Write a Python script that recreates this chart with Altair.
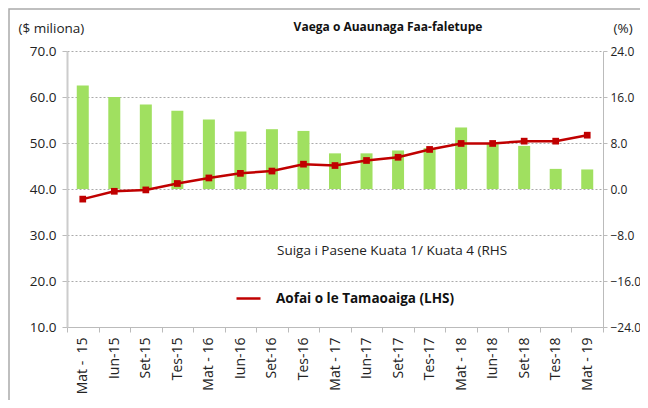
import altair as alt
import pandas as pd

quarters = ["Mat - \u00a015", "Iun-15", "Set-15", "Tes-15", "Mat - 16", "Iun-16", "Set-16", "Tes-16",
            "Mat - 17", "Iun-17", "Set-17", "Tes-17", "Mat - 18", "Iun-18", "Set-18", "Tes-18", "Mat - 19"]
pct_change = [18.0, 16.0, 14.7, 13.6, 12.1, 10.0, 10.4, 10.1,
              6.2, 6.2, 6.7, 7.1, 10.7, 7.8, 7.5, 3.5, 3.4]
total_assets = [37.8, 39.5, 39.8, 41.2, 42.4, 43.4, 43.9, 45.4,
                45.1, 46.2, 46.9, 48.6, 49.9, 49.9, 50.4, 50.4, 51.7]
left_ticks = [10, 20, 30, 40, 50, 60, 70]
right_ticks = [-24, -16, -8, 0, 8, 16, 24]

chart_title = "Vaega o Auaunaga Faa-faletupe"
line_name = "Aofai o le Tamaoaiga (LHS)"
bar_note = "Suiga i Pasene Kuata 1/ Kuata 4 (RHS"

df = pd.DataFrame({"q": quarters, "pct": pct_change, "assets": total_assets, "series": line_name})

FONT = "Open Sans"
W, H = 536, 276

xenc = alt.X("q:N", sort=quarters, title=None,
             scale=alt.Scale(paddingInner=0.0, paddingOuter=0.0),
             axis=alt.Axis(labelAngle=-90, labelFontSize=14, labelColor="#222", labelFont=FONT,
                           tickBand="extent", tickSize=5, tickColor="#bbb", domainColor="#bbb",
                           labelPadding=5, labelBaseline="middle", labelAlign="right"))

bars = alt.Chart(df).mark_bar(color="#A0E060", size=12).encode(
    x=xenc,
    y=alt.Y("pct:Q", title="(%)",
            scale=alt.Scale(domain=[-24, 24], nice=False, zero=False),
            axis=alt.Axis(orient="right", values=right_ticks, format=".1f", grid=False,
                          labelFontSize=12, labelColor="#222", labelFont=FONT,
                          tickSize=4, tickColor="#bbb", domainColor="#bbb", labelPadding=3,
                          titleAngle=0, titleX=10, titleY=-23, titleAlign="left",
                          titleBaseline="middle", titleFontWeight="normal", titleFontSize=13.5,
                          titleFont=FONT, titleColor="#222")),
)

line = alt.Chart(df).mark_line(strokeWidth=2.5).encode(
    x=alt.X("q:N", sort=quarters),
    y=alt.Y("assets:Q", title="($ miliona)",
            scale=alt.Scale(domain=[10, 70], nice=False, zero=False),
            axis=alt.Axis(orient="left", values=left_ticks, format=".1f",
                          grid=True, gridDash=[2, 2], gridColor="#aaa",
                          labelFontSize=13.5, labelColor="#222", labelFont=FONT,
                          tickSize=5, tickColor="#bbb", domainColor="#ccc", domainWidth=2,
                          labelPadding=6,
                          titleAngle=0, titleX=-49, titleY=-23, titleAlign="left",
                          titleBaseline="middle", titleFontWeight="normal", titleFontSize=13.5,
                          titleFont=FONT, titleColor="#222")),
    color=alt.Color("series:N", scale=alt.Scale(range=["#C00000"]),
                    legend=alt.Legend(title=None, orient="none", legendX=168, legendY=234,
                                      symbolType="stroke", symbolSize=576, symbolStrokeWidth=2.5,
                                      labelFontSize=13.5, labelFontWeight="bold", labelFont=FONT,
                                      labelColor="#111", labelOffset=14, labelLimit=0)),
)

points = alt.Chart(df).mark_point(shape="square", filled=True, size=45, color="#C00000", opacity=1).encode(
    x=alt.X("q:N", sort=quarters),
    y=alt.Y("assets:Q"),
)

note = alt.Chart(pd.DataFrame({"t": [bar_note]})).mark_text(
    align="left", baseline="middle", fontSize=13.5, font=FONT, color="#222"
).encode(x=alt.value(210), y=alt.value(200), text="t:N")

head = alt.Chart(pd.DataFrame({"t": [chart_title]})).mark_text(
    align="center", baseline="middle", fontSize=12, fontWeight="bold", font=FONT, color="#111"
).encode(x=alt.value(321), y=alt.value(-24), text="t:N")

frame = alt.Chart(pd.DataFrame({"a": [0]})).mark_rect(
    fill="transparent", fillOpacity=0, stroke="#aaa", strokeWidth=1.5
).encode(x=alt.value(-58), x2=alt.value(W + 200), y=alt.value(-42), y2=alt.value(H + 200))

left_layer = alt.layer(line, points)
chart = alt.layer(bars, left_layer, note, head, frame).resolve_scale(y="independent").properties(
    width=W, height=H,
    autosize=alt.AutoSizeParams(type="none"),
    padding={"left": 59, "top": 43, "right": 37, "bottom": 73},
).configure_view(stroke=None)

chart.save("out.html", embed_options={"renderer": "svg", "actions": False})
